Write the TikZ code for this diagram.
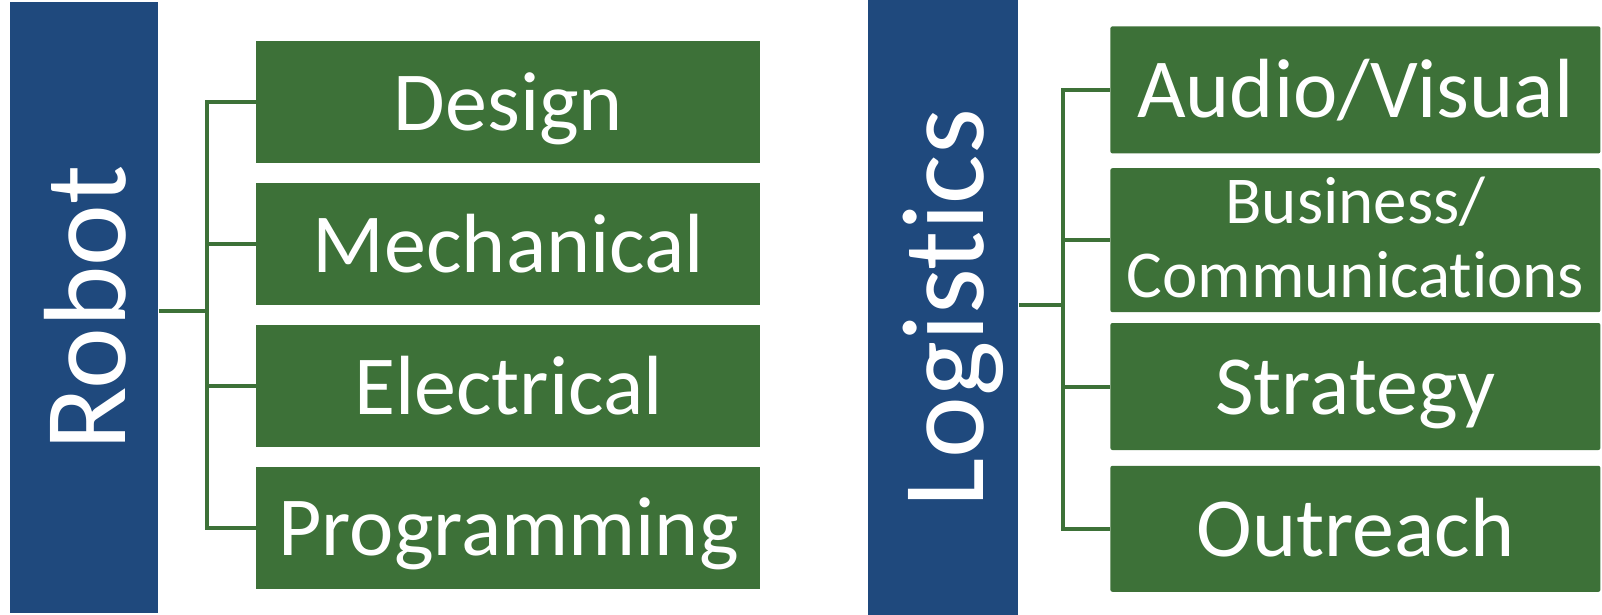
\documentclass[tikz,border=0pt]{standalone}
\usepackage{fontspec}
\setmainfont{Carlito}[Ligatures=NoCommon]
\usepackage{graphicx}
\usetikzlibrary{positioning}

\definecolor{teamblue}{HTML}{1F497D}
\definecolor{teamgreen}{RGB}{61,113,56}
\newcommand{\sidelabel}[1]{\rotatebox{90}{\raisebox{0pt}[\height][0pt]{#1}}}

\begin{document}
\begin{tikzpicture}[
    x=0.5pt, y=-0.5pt,
    group/.style={fill=teamblue, text=white, inner sep=0pt, anchor=north west,
      font=\fontsize{58.5}{62}\selectfont},
    task/.style={fill=teamgreen, text=white, inner sep=0pt, anchor=north west,
      minimum height=61pt, text height=36pt, text depth=8pt,
      font=\fontsize{42}{47}\selectfont},
    branch/.style={draw=teamgreen, line width=2pt}
  ]
    \useasboundingbox (0,0) rectangle (1602,615);

    \node[group, minimum width=74pt, minimum height=305.5pt] (robot) at (10,2) {\sidelabel{Robot}};
    \node[task, minimum width=252pt] (design) at (256,41) {Design};
    \node[task, minimum width=252pt, below=9.5pt of design] (mech) {Mechanical};
    \node[task, minimum width=252pt, below=9.5pt of mech] (elec) {Electrical};
    \node[task, minimum width=252pt, below=9.5pt of elec] (prog) {Programming};

    \node[group, minimum width=75pt, minimum height=307.5pt] (logistics) at (868,0) {\sidelabel{Logistics}};
    \node[task, minimum width=245pt, minimum height=63.5pt, rounded corners=1pt] (av) at (1110,26) {Audio/Visual};
    \node[task, minimum width=245pt, minimum height=72pt, rounded corners=1pt, below=7pt of av,
      align=center, font=\fontsize{33.5}{37}\selectfont, text height=60pt, text depth=3pt] (biz) {Business/\\Communications};
    \node[task, minimum width=245pt, minimum height=63.5pt, rounded corners=1pt, below=5pt of biz] (strat) {Strategy};
    \node[task, minimum width=245pt, minimum height=63pt, rounded corners=1pt, below=7.5pt of strat] (outreach) {Outreach};

    \coordinate (rbus) at (207,311);
    \draw[branch] (robot.east |- rbus) -- (rbus);
    \foreach \n in {design,mech,elec,prog}
        \draw[branch] (rbus) |- (\n.west);

    \coordinate (lbus) at (1063,305);
    \draw[branch] (logistics.east |- lbus) -- (lbus);
    \foreach \n in {av,biz,strat,outreach}
        \draw[branch] (lbus) |- (\n.west);
\end{tikzpicture}
\end{document}
